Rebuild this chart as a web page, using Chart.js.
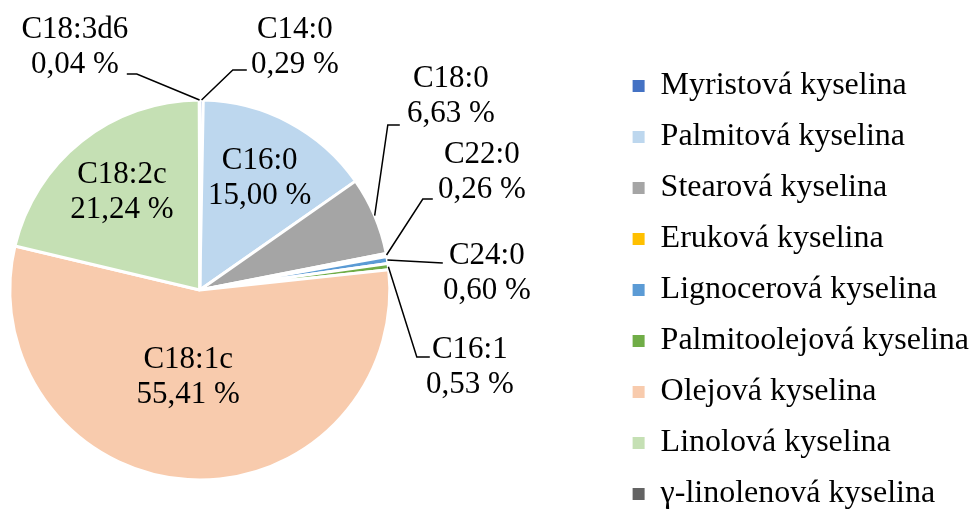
<!DOCTYPE html>
<html>
<head>
<meta charset="utf-8">
<script src="https://cdn.jsdelivr.net/npm/chart.js@4.4.1/dist/chart.umd.min.js"></script>
<style>
  html, body { margin: 0; width: 972px; height: 509px; overflow: hidden; background: #fff; }
  #wrap { position: absolute; left: -214px; top: 0; width: 1193px; height: 580px; }
</style>
</head>
<body>
<div id="wrap"><canvas id="my-chart"></canvas></div>
<script>
// data
const legendNames = ['Myristová kyselina', 'Palmitová kyselina', 'Stearová kyselina', 'Eruková kyselina',
    'Lignocerová kyselina', 'Palmitoolejová kyselina', 'Olejová kyselina', 'Linolová kyselina', 'γ-linolenová kyselina'];
const shortNames = ['C14:0', 'C16:0', 'C18:0', 'C22:0', 'C24:0', 'C16:1', 'C18:1c', 'C18:2c', 'C18:3d6'];
const shares = [0.29, 15.00, 6.63, 0.26, 0.60, 0.53, 55.41, 21.24, 0.04];
const colors = ['#4472C4', '#BDD7EE', '#A5A5A5', '#FFC000', '#5B9BD5', '#70AD47', '#F8CBAD', '#C5E0B4', '#636363'];

const FONT = '"Liberation Serif", "Times New Roman", serif';

// label placement, offsets from pie centre (px)
let labelSpots = {
    0: { text: [95, -243], line: [[33, -220], [47, -220]] },
    1: { inside: 0.67, turn: 0 },
    2: { text: [251, -194], line: [[188, -165], [200, -165]] },
    3: { text: [282, -118], line: [[223, -91], [233, -91]] },
    4: { text: [287, -17], line: [[243, -27]] },
    5: { text: [270, 77], line: [[217, 67], [230, 67]] },
    6: { inside: 0.46, turn: 4 },
    7: { inside: 0.66, turn: 0 },
    8: { text: [-125, -243], line: [[-63, -216], [-73, -216]] }
};

function fmt(v) {
    return v.toFixed(2).replace('.', ',') + ' %';
}

let pieLabels = {
    id: 'pieLabels',
    afterDatasetsDraw(chart) {
        let ctx = chart.ctx;
        let meta = chart.getDatasetMeta(0);
        ctx.save();
        ctx.font = '31px ' + FONT;
        ctx.fillStyle = '#000';
        ctx.strokeStyle = '#000';
        ctx.lineWidth = 1.5;
        ctx.textAlign = 'center';
        ctx.textBaseline = 'middle';
        meta.data.forEach(function(arc, i) {
            let p = arc.getProps(['x', 'y', 'startAngle', 'endAngle', 'outerRadius'], true);
            let mid = (p.startAngle + p.endAngle) / 2;
            let spot = labelSpots[i];
            let tx, ty;
            if (spot.inside) {
                let a = mid + spot.turn * Math.PI / 180;
                tx = p.x + Math.cos(a) * p.outerRadius * spot.inside;
                ty = p.y + Math.sin(a) * p.outerRadius * spot.inside;
            } else {
                tx = p.x + spot.text[0];
                ty = p.y + spot.text[1];
                ctx.beginPath();
                ctx.moveTo(p.x + Math.cos(mid) * p.outerRadius, p.y + Math.sin(mid) * p.outerRadius);
                spot.line.forEach(function(pt) {
                    ctx.lineTo(p.x + pt[0], p.y + pt[1]);
                });
                ctx.stroke();
            }
            ctx.fillText(shortNames[i], tx, ty - 17);
            ctx.fillText(fmt(shares[i]), tx, ty + 18);
        });
        ctx.restore();
    }
};

let ctx = document.getElementById('my-chart').getContext('2d');

let myPieChart = new Chart(ctx, {
    type: 'pie',
    data: {
        labels: legendNames,
        datasets: [{
            data: shares,
            backgroundColor: colors,
            borderColor: '#fff',
            borderWidth: 3,
            radius: 190
        }]
    },
    options: {
        responsive: true,
        maintainAspectRatio: false,
        animation: false,
        layout: { padding: 0 },
        plugins: {
            tooltip: { enabled: false },
            legend: {
                position: 'right',
                align: 'center',
                labels: {
                    boxWidth: 12,
                    boxHeight: 12,
                    padding: 19,
                    color: '#000',
                    font: { family: FONT, size: 32 },
                    generateLabels: function(chart) {
                        let items = Chart.controllers.pie.overrides.plugins.legend.labels.generateLabels(chart);
                        items.forEach(function(it) { it.lineWidth = 0; });
                        return items;
                    }
                }
            }
        }
    },
    plugins: [pieLabels]
});
</script>
</body>
</html>
